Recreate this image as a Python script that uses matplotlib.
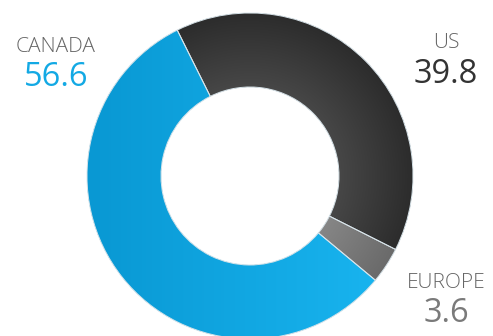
import numpy as np
import matplotlib
matplotlib.use('Agg')
import matplotlib.pyplot as plt
from matplotlib.colors import to_rgb

# ==================== DATA ====================
regions = ['US', 'EUROPE', 'CANADA']
values = [39.8, 3.6, 56.6]
value_labels = ['39.8', '3.6', '56.6']

# colours: (outer / dark end, inner / light end)
shades = {
    'US': ('#2c2c2c', '#474747'),
    'EUROPE': ('#6a6a6a', '#868686'),
    'CANADA': ('#0998d3', '#19b5f0'),
}
number_colors = {'US': '#333333', 'EUROPE': '#7a7a7a', 'CANADA': '#13a9e4'}

# ==================== FIGURE ====================
W, H = 493, 336
fig = plt.figure(figsize=(W / 100, H / 100), dpi=100)
ax = fig.add_axes([0, 0, 1, 1])

cx, cy = 250, 160
R_out, R_in = 163, 89


def draw_ring(**kw):
    wedges, _ = ax.pie(values, startangle=116.5, counterclock=False,
                       center=(cx, cy), radius=R_out, frame=True, **kw)
    ax.set_xlim(0, W)
    ax.set_ylim(0, H)
    ax.set_aspect('equal')
    ax.axis('off')
    return wedges


wedges = draw_ring(colors=[shades[r][0] for r in regions],
                   wedgeprops=dict(width=R_out - R_in, linewidth=0))

# gradient fills clipped to each wedge
xx, yy = np.meshgrid(np.arange(W) + 0.5, np.arange(H) + 0.5)
dist = np.hypot(xx - cx, yy - cy)
t_radial = np.clip((R_out - dist) / (R_out - R_in), 0, 1)
t_x = np.clip((xx - 90) / 300, 0, 1)

for w, name in zip(wedges, regions):
    c0 = np.array(to_rgb(shades[name][0]))
    c1 = np.array(to_rgb(shades[name][1]))
    t = t_x if name == 'CANADA' else t_radial
    img = c0 + (c1 - c0) * t[..., None]
    im = ax.imshow(img, extent=(0, W, 0, H), origin='lower',
                   interpolation='bilinear', zorder=2)
    im.set_clip_path(w)

# thin light separators
draw_ring(colors=['none'] * 3,
          wedgeprops=dict(width=R_out - R_in, linewidth=0.7,
                          edgecolor='#d8e4ea', zorder=3))

# ==================== LABELS ====================
label_pos = {'CANADA': (56, 284, 250), 'US': (446, 288, 253), 'EUROPE': (446, 48, 14)}
for name, val in zip(regions, value_labels):
    x, y_name, y_val = label_pos[name]
    ax.text(x, y_name, name, ha='center', va='baseline', fontsize=15,
            color='#666666', family='Open Sans', fontweight='light', zorder=5)
    ax.text(x, y_val, val, ha='center', va='baseline', fontsize=23.5,
            color=number_colors[name], family='Open Sans', zorder=5)

fig.savefig('out.png', dpi=100)
